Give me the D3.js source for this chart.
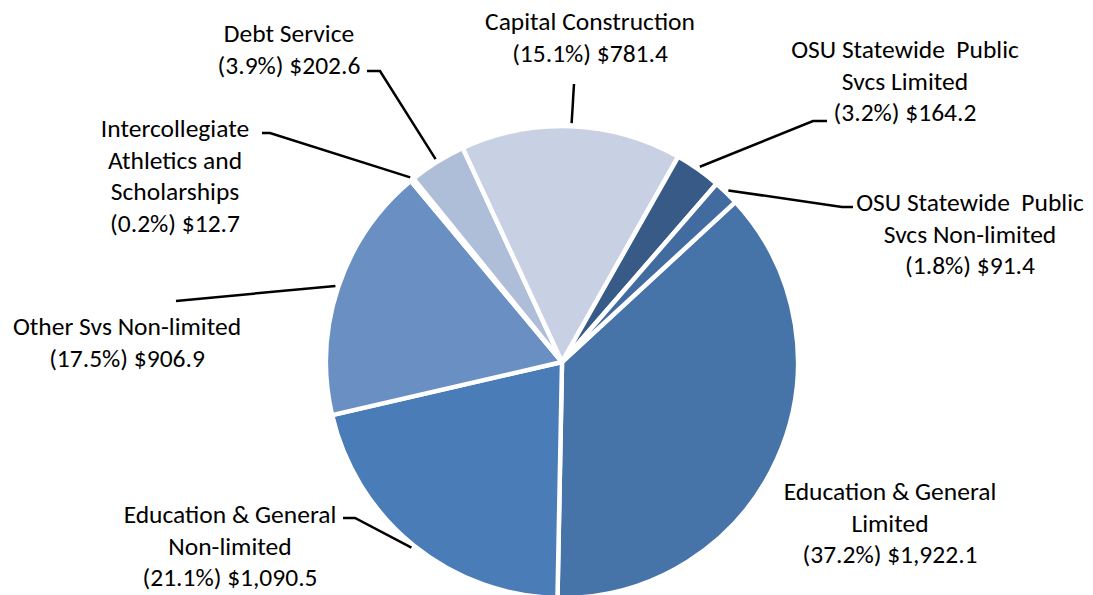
<!DOCTYPE html>
<html>
<head>
<meta charset="utf-8">
<script src="https://cdn.jsdelivr.net/npm/d3@7"></script>
<style>
  body { margin: 0; background: #fff; }
  svg text { font-family: Carlito, Calibri, Lato, sans-serif; font-size: 25.5px; fill: #000; white-space: pre; }
</style>
</head>
<body>
<div class="chart"></div>
<script>
// Budget categories, clockwise, starting at the E&G Limited slice
const categories = [
    "Education & General Limited",
    "Education & General Non-limited",
    "Other Svs Non-limited",
    "Intercollegiate Athletics and Scholarships",
    "Debt Service",
    "Capital Construction",
    "OSU Statewide Public Svcs Limited",
    "OSU Statewide Public Svcs Non-limited"
];
// $ millions
const amounts = [1922.1, 1090.5, 906.9, 12.7, 202.6, 781.4, 164.2, 91.4];
const percents = ["37.2%", "21.1%", "17.5%", "0.2%", "3.9%", "15.1%", "3.2%", "1.8%"];
const amountLabels = ["$1,922.1", "$1,090.5", "$906.9", "$12.7", "$202.6", "$781.4", "$164.2", "$91.4"];
// how each label is broken into lines (last line is the percent / amount)
const labelLines = [
    ["Education & General", "Limited"],
    ["Education & General", "Non-limited"],
    ["Other Svs Non-limited"],
    ["Intercollegiate", "Athletics and", "Scholarships"],
    ["Debt Service"],
    ["Capital Construction"],
    ["OSU Statewide  Public", "Svcs Limited"],
    ["OSU Statewide  Public", "Svcs Non-limited"]
];
const colors = ["#4674a8", "#4a7cb8", "#6a8fc3", "#8fa6cf", "#aebed9", "#c8d1e4", "#385a86", "#426b9f"];

const plotVars = ({
    width: 1093,
    height: 595,
    cx: 562,
    cy: 362,
    radius: 236,
    startDeg: 47.3,
    lineHeight: 31.5
});

// label placement: text centre x, first line centre y, leader bend points (after the pie end)
const labelLayout = [
    { x: 890, y: 491, leader: null },
    { x: 230, y: 514, leader: [[355, 518], [343, 518]] },
    { x: 127, y: 326, leader: [[176, 301]] },
    { x: 175, y: 128, leader: [[270, 133], [262, 133]] },
    { x: 289, y: 33, leader: [[380, 71], [367, 71]] },
    { x: 590, y: 21, leader: [[574, 84]] },
    { x: 905, y: 49, leader: [[813, 121], [827, 121]] },
    { x: 970, y: 202, leader: [[842, 207], [853, 207]] }
];

const data = categories.map((c, i) => ({
    name: c,
    value: amounts[i],
    color: colors[i],
    lines: labelLines[i].concat([`(${percents[i]}) ${amountLabels[i]}`]),
    layout: labelLayout[i]
}));

const svg = d3.select(".chart").append("svg")
    .attr("width", plotVars.width)
    .attr("height", plotVars.height);

const start = plotVars.startDeg * Math.PI / 180;
const pie = d3.pie().sort(null).value(d => d.value)
    .startAngle(start).endAngle(start + 2 * Math.PI);
const arcs = pie(data);

const arc = d3.arc().innerRadius(0).outerRadius(plotVars.radius);

const pieGroup = svg.append("g")
    .attr("transform", `translate(${plotVars.cx},${plotVars.cy})`);

pieGroup.selectAll("path")
    .data(arcs)
    .join("path")
    .attr("d", arc)
    .attr("fill", d => d.data.color)
    .attr("stroke", "#fff")
    .attr("stroke-width", 4.5)
    .attr("stroke-linejoin", "round");

// leader lines: from just outside the slice's middle to the label
const leaderLine = d3.line();
const leaders = arcs.filter(d => d.data.layout.leader);
svg.append("g").selectAll("path")
    .data(leaders)
    .join("path")
    .attr("d", d => {
        const mid = (d.startAngle + d.endAngle) / 2;
        const r = plotVars.radius + 3;
        const p0 = [plotVars.cx + r * Math.sin(mid), plotVars.cy - r * Math.cos(mid)];
        return leaderLine([p0].concat(d.data.layout.leader));
    })
    .attr("fill", "none")
    .attr("stroke", "#000")
    .attr("stroke-width", 2.5);

// labels
const labels = svg.append("g").selectAll("text")
    .data(data)
    .join("text")
    .attr("text-anchor", "middle");

labels.selectAll("tspan")
    .data(d => d.lines.map((t, i) => ({ t, i, layout: d.layout })))
    .join("tspan")
    .attr("x", d => d.layout.x)
    .attr("y", d => d.layout.y + d.i * plotVars.lineHeight)
    .attr("dy", "0.36em")
    .text(d => d.t);
</script>
</body>
</html>
